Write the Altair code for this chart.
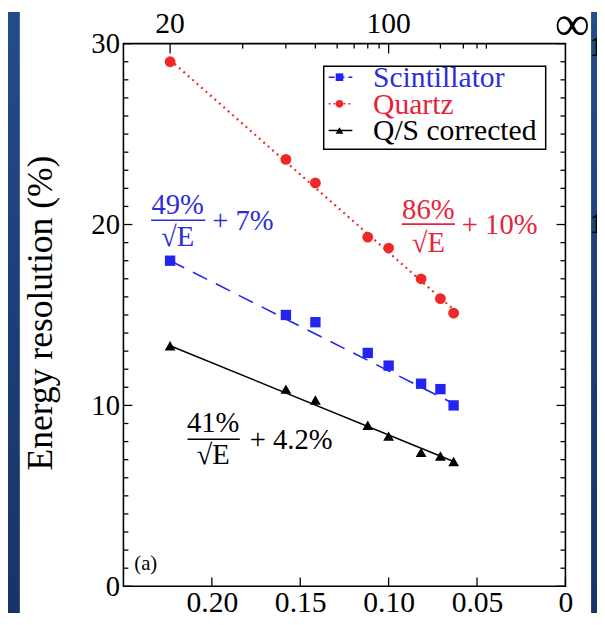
import altair as alt
import numpy as np
import pandas as pd

# ---------------- data ----------------
energies = [20, 40, 50, 80, 100, 150, 200, 250]          # beam energy (GeV)
scint = [18.0, 15.0, 14.6, 12.9, 12.2, 11.2, 10.9, 10.0]  # Scintillator resolution (%)
quartz = [29.0, 23.6, 22.3, 19.3, 18.7, 17.0, 15.9, 15.1]  # Quartz resolution (%)
qs_corr = [13.3, 10.9, 10.3, 8.9, 8.3, 7.4, 7.2, 6.9]      # Q/S corrected resolution (%)

fit_energies = [20, 250]
fit_scint = [18.0, 10.1]
fit_quartz = [29.1, 15.3]
fit_qs = [13.3, 6.9]

x_ticks = [0.20, 0.15, 0.10, 0.05, 0.0]
y_ticks = [0, 10, 20, 30]
y_minor = [v for v in range(0, 31) if v % 10 != 0]
top_major_E = [20, 100]
top_major_labels = ["20", "100"]
top_minor_E = [30, 40, 50, 60, 70, 80, 90, 200, 300, 400, 500]

BLUE = "#2424f0"
RED = "#f02828"
BLUE_T = "#2e2ed6"
RED_T = "#e8223a"
FONT = "Liberation Serif"

W, H = 448, 550

SLIDE_FILL = alt.Gradient(
    gradient="linear",
    stops=[alt.GradientStop(color="#244c8a", offset=0),
           alt.GradientStop(color="#1d3f78", offset=0.5),
           alt.GradientStop(color="#173466", offset=1)],
    x1=0, x2=0, y1=0, y2=1,
)


def inv_sqrt(e):
    return [float(1.0 / np.sqrt(v)) for v in e]


def series_df(vals):
    return pd.DataFrame({"x": inv_sqrt(energies), "y": vals})


def fit_df(vals):
    return pd.DataFrame({"x": inv_sqrt(fit_energies), "y": vals})


one = pd.DataFrame({"a": [0]})

xs = alt.Scale(domain=[0, 0.25], reverse=True, nice=False, zero=False)
ys = alt.Scale(domain=[0, 30], nice=False, zero=False)

xaxis = alt.Axis(values=x_ticks,
                 labelExpr="datum.value == 0 ? '0' : format(datum.value, '.2f')",
                 ticks=False, domain=False, grid=False, title=None,
                 labelFont=FONT, labelFontSize=30, labelColor="black",
                 labelPadding=2, labelFlush=False, labelOverlap=False)
yaxis = alt.Axis(values=y_ticks, format="d",
                 ticks=False, domain=False, grid=False, title=None,
                 labelFont=FONT, labelFontSize=29, labelColor="black",
                 labelPadding=4, labelFlush=False, labelOverlap=False)

X = alt.X("x:Q", scale=xs, axis=xaxis)
Y = alt.Y("y:Q", scale=ys, axis=yaxis)

layers = []

# slide strips
layers.append(alt.Chart(one).mark_rect(color=SLIDE_FILL).encode(
    x=alt.value(-117), x2=alt.value(-105), y=alt.value(-32), y2=alt.value(577)))
layers.append(alt.Chart(one).mark_rect(color=SLIDE_FILL).encode(
    x=alt.value(474), x2=alt.value(480), y=alt.value(-32), y2=alt.value(577)))

# fit lines
layers.append(alt.Chart(fit_df(fit_quartz)).mark_line(
    color=RED, strokeDash=[2, 4], strokeWidth=2.2).encode(x=X, y=Y))
layers.append(alt.Chart(fit_df(fit_scint)).mark_line(
    color=BLUE, strokeDash=[16, 10], strokeWidth=1.6).encode(x=X, y=Y))
layers.append(alt.Chart(fit_df(fit_qs)).mark_line(
    color="black", strokeWidth=1.5).encode(x=X, y=Y))

# data points
layers.append(alt.Chart(series_df(quartz)).mark_point(
    shape="circle", filled=True, size=120, color=RED, opacity=1).encode(x=X, y=Y))
layers.append(alt.Chart(series_df(scint)).mark_point(
    shape="square", filled=True, size=110, color=BLUE, opacity=1).encode(x=X, y=Y))
layers.append(alt.Chart(series_df(qs_corr)).mark_point(
    shape="triangle-up", filled=True, size=120, color="black", opacity=1).encode(x=X, y=Y))

# inward ticks: left / right
ymin_df = pd.DataFrame({"y": y_minor})
ymaj_df = pd.DataFrame({"y": y_ticks})
tick_style = dict(color="black", strokeWidth=1.3)
layers.append(alt.Chart(ymin_df).mark_rule(**tick_style).encode(
    y=Y, x=alt.value(0), x2=alt.value(5)))
layers.append(alt.Chart(ymaj_df).mark_rule(**tick_style).encode(
    y=Y, x=alt.value(0), x2=alt.value(9)))
layers.append(alt.Chart(ymin_df).mark_rule(**tick_style).encode(
    y=Y, x=alt.value(W - 5), x2=alt.value(W)))
layers.append(alt.Chart(ymaj_df).mark_rule(**tick_style).encode(
    y=Y, x=alt.value(W - 9), x2=alt.value(W)))

# bottom ticks
layers.append(alt.Chart(pd.DataFrame({"x": x_ticks})).mark_rule(**tick_style).encode(
    x=X, y=alt.value(H), y2=alt.value(H - 9)))

# top ticks (energy scale)
layers.append(alt.Chart(pd.DataFrame({"x": inv_sqrt(top_minor_E)})).mark_rule(**tick_style).encode(
    x=X, y=alt.value(0), y2=alt.value(5)))
layers.append(alt.Chart(pd.DataFrame({"x": inv_sqrt(top_major_E)})).mark_rule(**tick_style).encode(
    x=X, y=alt.value(0), y2=alt.value(10)))

# top labels
layers.append(alt.Chart(pd.DataFrame({"x": inv_sqrt(top_major_E), "t": top_major_labels})).mark_text(
    font=FONT, fontSize=30, color="black", baseline="middle", align="center").encode(
    x=X, y=alt.value(-20), text="t:N"))
layers.append(alt.Chart(one).mark_text(
    text="∞", font=FONT, fontSize=50, color="black", baseline="middle", align="center").encode(
    x=alt.value(W + 7), y=alt.value(-19)))

# partial labels of the neighbouring panel
for yy in [4, 183]:
    layers.append(alt.Chart(one).mark_text(
        text="1", font=FONT, fontSize=30, fontWeight="bold", color="black",
        baseline="middle", align="left").encode(x=alt.value(W + 25), y=alt.value(yy)))

# y title
layers.append(alt.Chart(one).mark_text(
    text="Energy resolution (%)", font=FONT, fontSize=36, color="black",
    angle=270, baseline="middle", align="center").encode(x=alt.value(-83), y=alt.value(273)))

# panel tag
layers.append(alt.Chart(one).mark_text(
    text="(a)", font=FONT, fontSize=21, color="black", baseline="middle", align="left").encode(
    x=alt.value(11), y=alt.value(527)))

# legend
layers.append(alt.Chart(one).mark_rect(fill="white", stroke="black", strokeWidth=1.5).encode(
    x=alt.value(203), x2=alt.value(428), y=alt.value(23), y2=alt.value(107)))
leg = [("Scintillator", BLUE, BLUE_T, "square", [6, 4], 34),
       ("Quartz", RED, RED_T, "circle", [2, 3], 61),
       ("Q/S corrected", "black", "black", "triangle-up", None, 88)]
for label, col, tcol, shape, dash, yy in leg:
    kw = dict(color=col, strokeWidth=1.5)
    if dash:
        kw["strokeDash"] = dash
    layers.append(alt.Chart(one).mark_rule(**kw).encode(
        x=alt.value(208), x2=alt.value(232), y=alt.value(yy)))
    layers.append(alt.Chart(one).mark_point(
        shape=shape, filled=True, size=60, color=col, opacity=1).encode(
        x=alt.value(219), y=alt.value(yy)))
    layers.append(alt.Chart(one).mark_text(
        text=label, font=FONT, fontSize=30, color=tcol, baseline="middle", align="left").encode(
        x=alt.value(253), y=alt.value(yy + 1)))

# formula annotations
formulas = [("49%", "+ 7%", BLUE_T, 55, 164, 28, 83, 179, 196, 90),
            ("86%", "+ 10%", RED_T, 309, 169, 282, 336, 183, 202, 343),
            ("41%", "+ 4.2%", "black", 91, 385, 65, 118, 401, 417, 128)]
for num, rest, col, cx, ny, bx1, bx2, by, ey, rx in formulas:
    layers.append(alt.Chart(one).mark_text(
        text=num, font=FONT, fontSize=29, color=col, baseline="middle", align="center").encode(
        x=alt.value(cx), y=alt.value(ny)))
    layers.append(alt.Chart(one).mark_rule(color=col, strokeWidth=1.7).encode(
        x=alt.value(bx1), x2=alt.value(bx2), y=alt.value(by)))
    layers.append(alt.Chart(one).mark_text(
        text="√E", font=FONT, fontSize=29, color=col, baseline="middle", align="center").encode(
        x=alt.value(cx), y=alt.value(ey)))
    layers.append(alt.Chart(one).mark_text(
        text=rest, font=FONT, fontSize=29, color=col, baseline="middle", align="left").encode(
        x=alt.value(rx), y=alt.value(by + 1)))

chart = alt.layer(*layers).properties(
    width=W, height=H,
    autosize=alt.AutoSizeParams(type="none"),
    padding={"left": 117, "top": 32, "right": 32, "bottom": 27},
    background="white",
).configure_view(stroke="black", strokeWidth=1.6)

chart.save("out.html", embed_options={"renderer": "svg", "actions": False})
